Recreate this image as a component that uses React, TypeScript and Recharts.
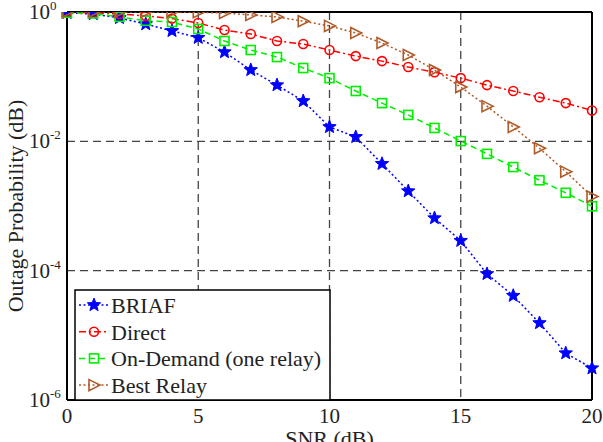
import React from 'react';
import {
  CartesianGrid,
  Label,
  Legend,
  Line,
  LineChart,
  ReferenceLine,
  XAxis,
  YAxis,
} from 'recharts';

const SNR = [0, 1, 2, 3, 4, 5, 6, 7, 8, 9, 10, 11, 12, 13, 14, 15, 16, 17, 18, 19, 20];
const BRIAF = [
  0.97, 0.93, 0.81, 0.65, 0.51, 0.4, 0.24, 0.127, 0.074, 0.042, 0.0167, 0.0117, 0.0045, 0.0017,
  6.5e-4, 2.9e-4, 8.9e-5, 4.1e-5, 1.55e-5, 5.3e-6, 3.1e-6,
];
const DIRECT = [
  1.0, 0.97, 0.93, 0.87, 0.79, 0.676, 0.527, 0.457, 0.356, 0.32, 0.258, 0.208, 0.174, 0.141,
  0.117, 0.095, 0.074, 0.06, 0.048, 0.039, 0.03,
];
const ON_DEMAND = [
  0.97, 0.95, 0.84, 0.73, 0.7, 0.546, 0.356, 0.258, 0.201, 0.136, 0.095, 0.06, 0.039, 0.0256,
  0.0161, 0.0101, 0.0064, 0.004, 0.0025, 0.0016, 0.00099,
];
const BEST_RELAY = [
  1, 1, 1, 1, 1, 0.99, 0.965, 0.9, 0.84, 0.72, 0.61, 0.474, 0.331, 0.216, 0.127, 0.069, 0.035,
  0.0167, 0.0078, 0.0034, 0.0014,
];
const X_TICKS = [0, 5, 10, 15, 20];
const Y_TICKS = [1e-6, 1e-4, 1e-2, 1];

const FONT = "'Liberation Serif', 'DejaVu Serif', serif";
const txt = (size: number) => ({ fontFamily: FONT, fontSize: size });

type Shape = 'star' | 'circle' | 'square' | 'triangle';

const SERIES: { key: string; name: string; color: string; dash: string; shape: Shape }[] = [
  { key: 'briaf', name: 'BRIAF', color: '#0000ff', dash: '2 2.5', shape: 'star' },
  { key: 'direct', name: 'Direct', color: '#ff0000', dash: '7 3 2 3', shape: 'circle' },
  { key: 'onDemand', name: 'On-Demand (one relay)', color: '#00ee00', dash: '6 4', shape: 'square' },
  { key: 'bestRelay', name: 'Best Relay', color: '#b05a28', dash: '2 2.5', shape: 'triangle' },
];

const data = SNR.map((snr, i) => ({
  snr,
  briaf: BRIAF[i],
  direct: DIRECT[i],
  onDemand: ON_DEMAND[i],
  bestRelay: BEST_RELAY[i],
}));

function starPoints(cx: number, cy: number, R: number, r: number) {
  const pts: string[] = [];
  for (let i = 0; i < 10; i++) {
    const rad = i % 2 === 0 ? R : r;
    const a = -Math.PI / 2 + (i * Math.PI) / 5;
    pts.push(`${cx + rad * Math.cos(a)},${cy + rad * Math.sin(a)}`);
  }
  return pts.join(' ');
}

function Marker({ cx, cy, shape, color }: { cx: number; cy: number; shape: Shape; color: string }) {
  if (shape === 'star') {
    return <polygon points={starPoints(cx, cy, 7, 3)} fill={color} stroke={color} strokeWidth={1} />;
  }
  if (shape === 'circle') {
    return <circle cx={cx} cy={cy} r={4.5} fill="none" stroke={color} strokeWidth={1.6} />;
  }
  if (shape === 'square') {
    return <rect x={cx - 4.5} y={cy - 4.5} width={9} height={9} fill="none" stroke={color} strokeWidth={1.6} />;
  }
  return (
    <polygon
      points={`${cx - 5},${cy - 5.5} ${cx + 6},${cy} ${cx - 5},${cy + 5.5}`}
      fill="none"
      stroke={color}
      strokeWidth={1.6}
    />
  );
}

const makeDot = (shape: Shape, color: string) => (props: any) => {
  if (props.cx == null || props.cy == null) return <g key={`e-${props.index}`} />;
  return (
    <g key={`d-${props.index}`}>
      <Marker cx={props.cx} cy={props.cy} shape={shape} color={color} />
    </g>
  );
};

function YTick(props: any) {
  const { x, y, payload } = props;
  const exp = Math.round(Math.log10(payload.value));
  return (
    <g>
      <text x={x - 17} y={y + 7} textAnchor="end" style={txt(21)} fill="#222">
        10
      </text>
      <text x={x - 17} y={y - 2} textAnchor="start" style={txt(13)} fill="#222">
        {String(exp)}
      </text>
    </g>
  );
}

function XTick(props: any) {
  const { x, y, payload } = props;
  return (
    <text x={x} y={y + 23} textAnchor="middle" style={txt(21)} fill="#222">
      {payload.value}
    </text>
  );
}

function LegendBox() {
  return (
    <svg width={258} height={112} style={{ display: 'block' }}>
      <rect x={1} y={1} width={255} height={110} fill="#fff" stroke="#000" strokeWidth={1.5} />
      {SERIES.map((s, i) => {
        const cy = 16 + i * 26.7;
        return (
          <g key={s.key}>
            <line x1={5} x2={35} y1={cy} y2={cy} stroke={s.color} strokeWidth={1.5} strokeDasharray={s.dash} />
            <Marker cx={20} cy={cy} shape={s.shape} color={s.color} />
            <text x={37} y={cy + 8} style={txt(22)} fill="#222">
              {s.name}
            </text>
          </g>
        );
      })}
    </svg>
  );
}

export default function App() {
  return (
    <div style={{ position: 'absolute', left: 0, top: 0, width: 603, height: 442, background: '#fff' }}>
      <LineChart width={603} height={442} data={data} margin={{ top: 12, right: 11, bottom: 0, left: 0 }}>
        <CartesianGrid stroke="#444" strokeWidth={1.3} strokeDasharray="8 5" />
        <XAxis
          dataKey="snr"
          type="number"
          domain={[0, 20]}
          ticks={X_TICKS}
          height={42}
          tickSize={0}
          tickMargin={0}
          tickLine={false}
          axisLine={{ stroke: '#000', strokeWidth: 2 }}
          tick={<XTick />}
        >
          <Label
            content={(p: any) => {
              const vb = p.viewBox || {};
              return (
                <text x={vb.x + vb.width / 2} y={vb.y + 46} textAnchor="middle" style={txt(22)} fill="#222">
                  SNR (dB)
                </text>
              );
            }}
          />
        </XAxis>
        <YAxis
          scale="log"
          type="number"
          domain={[1e-6, 1]}
          ticks={Y_TICKS}
          allowDataOverflow
          width={67}
          tickSize={0}
          tickMargin={0}
          tickLine={false}
          axisLine={{ stroke: '#000', strokeWidth: 2 }}
          tick={<YTick />}
        >
          <Label
            content={(p: any) => {
              const vb = p.viewBox || {};
              const cx = vb.x + 15;
              const cy = vb.y + vb.height / 2;
              return (
                <text
                  x={cx}
                  y={cy}
                  transform={`rotate(-90, ${cx}, ${cy})`}
                  textAnchor="middle"
                  dominantBaseline="central"
                  style={txt(22)}
                  fill="#222"
                >
                  Outage Probability (dB)
                </text>
              );
            }}
          />
        </YAxis>
        <ReferenceLine y={1} stroke="#000" strokeWidth={2} />
        <ReferenceLine x={20} stroke="#000" strokeWidth={2} />
        {SERIES.map((s) => (
          <Line
            key={s.key}
            dataKey={s.key}
            name={s.name}
            stroke={s.color}
            strokeWidth={1.5}
            strokeDasharray={s.dash}
            dot={makeDot(s.shape, s.color)}
            activeDot={false}
            isAnimationActive={false}
          />
        ))}
        <Legend
          layout="vertical"
          align="center"
          verticalAlign="middle"
          wrapperStyle={{ left: 74, top: 289, width: 258, height: 112 }}
          content={<LegendBox />}
        />
      </LineChart>
    </div>
  );
}
